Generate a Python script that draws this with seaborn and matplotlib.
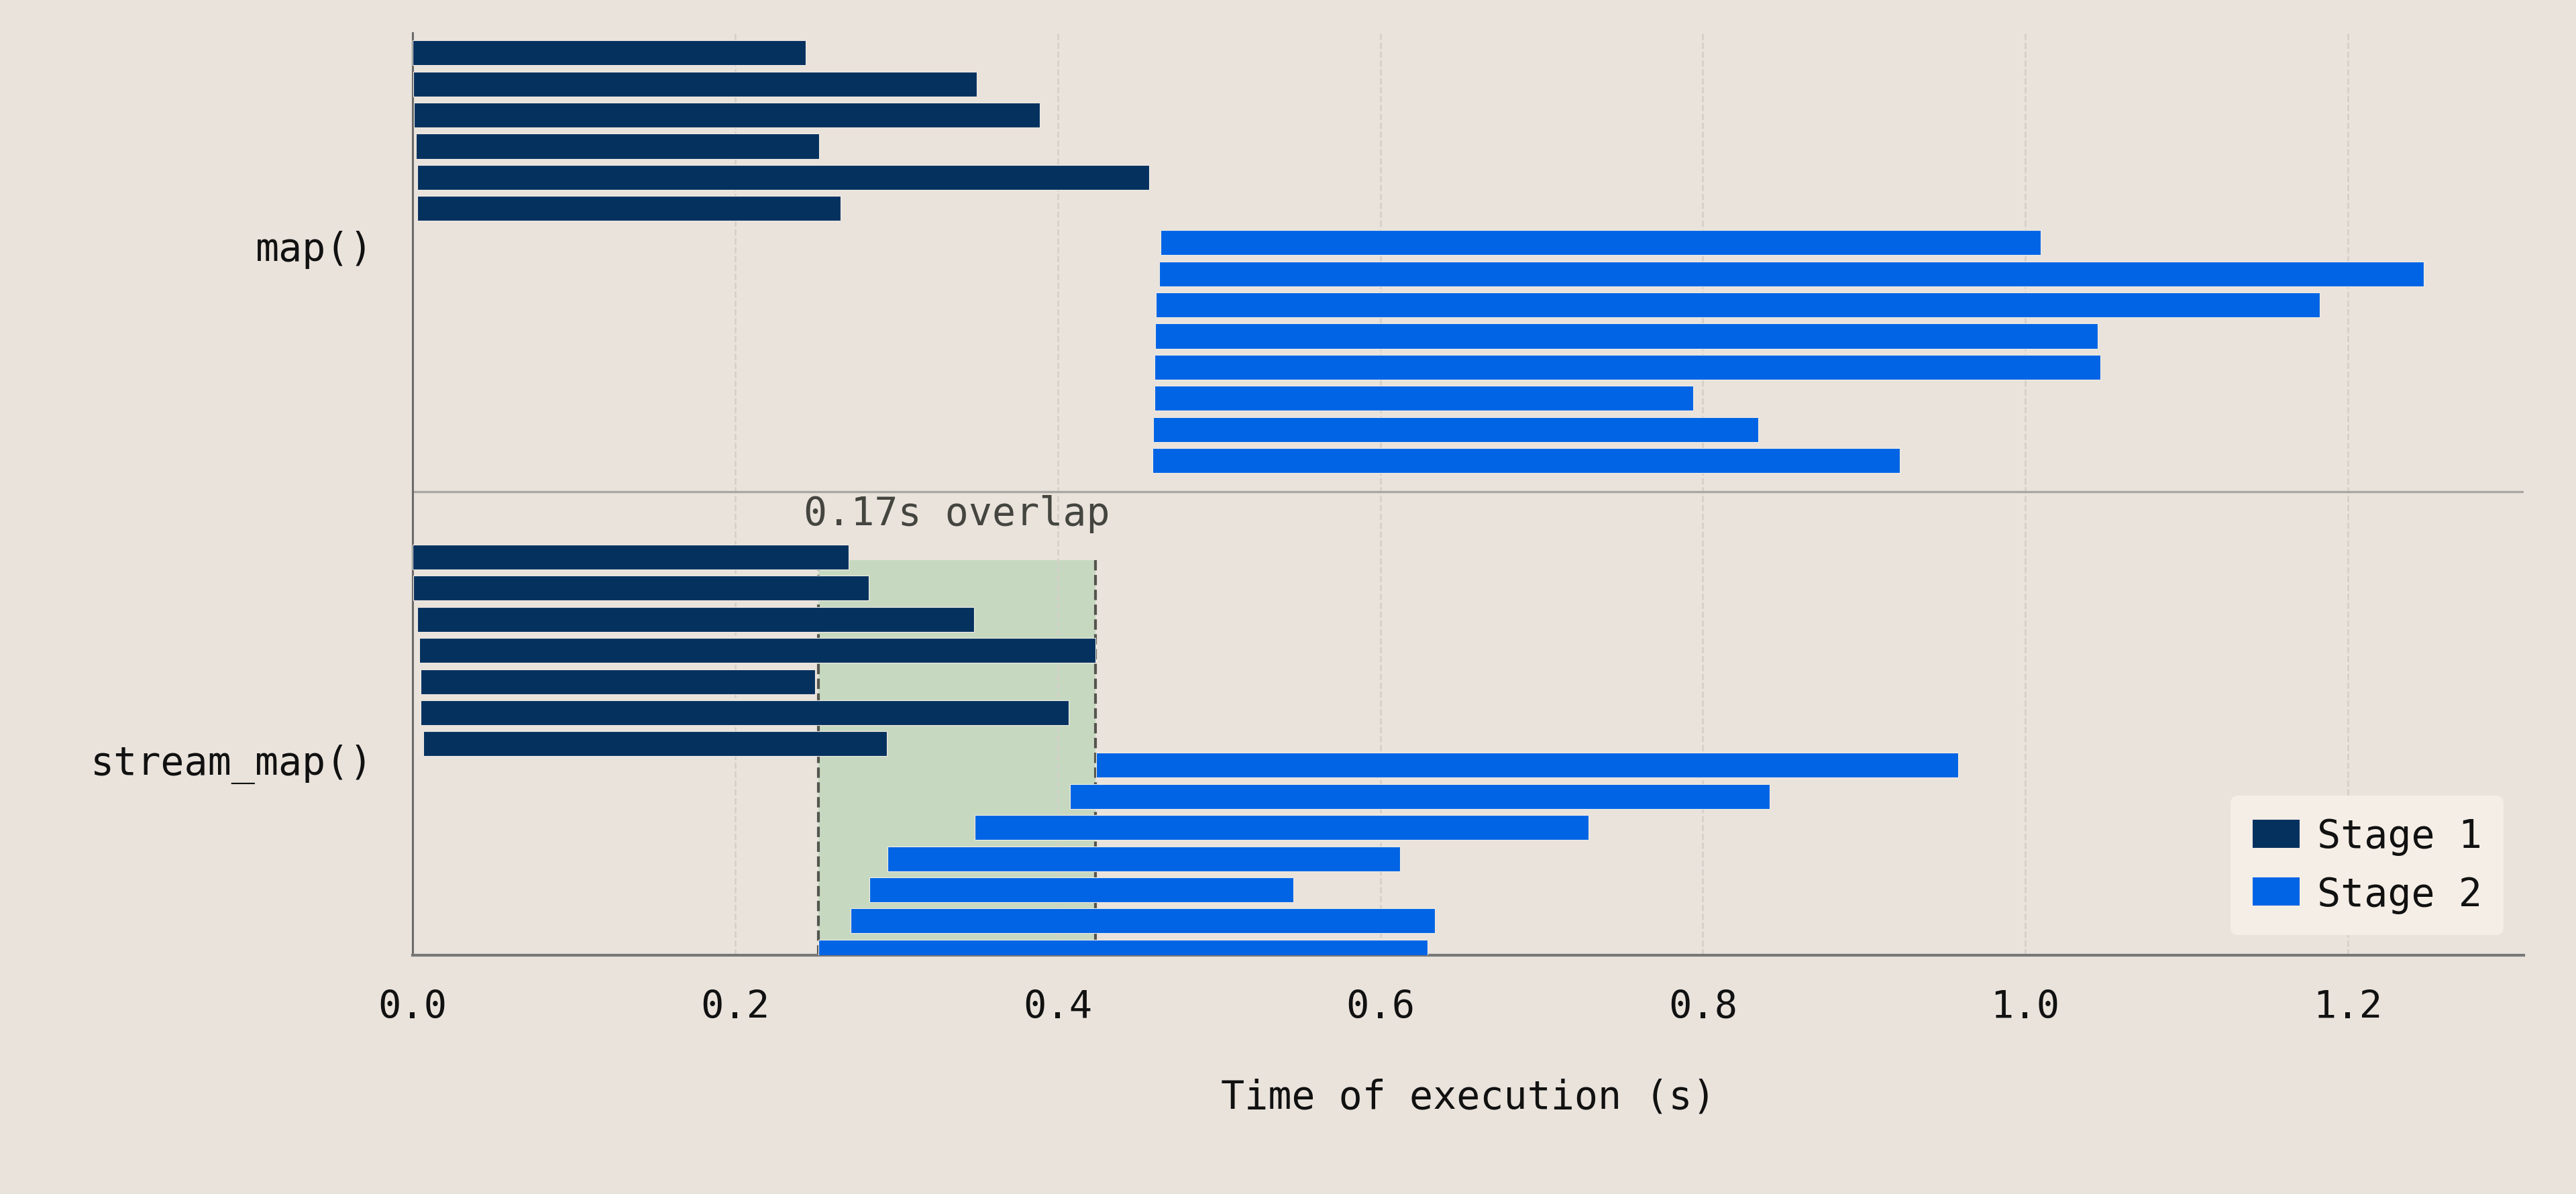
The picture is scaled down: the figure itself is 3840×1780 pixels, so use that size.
import matplotlib
matplotlib.use("Agg")
import matplotlib.pyplot as plt
from matplotlib.patches import Patch
import numpy as np
import pandas as pd
import seaborn as sns

# 两种方法、两个阶段的任务起止时间（秒）
methods = ["map()", "stream_map()"]
stages = ["Stage 1", "Stage 2"]

map_stage1_start = [0.000, 0.0004, 0.0007, 0.002, 0.003, 0.003]
map_stage1_end = [0.2437, 0.3497, 0.3889, 0.2521, 0.4566, 0.2652]
map_stage2_start = [0.4638, 0.4627, 0.4609, 0.4603, 0.4598, 0.4598, 0.4592, 0.4586]
map_stage2_end = [1.0095, 1.2468, 1.1824, 1.0448, 1.0465, 0.7939, 0.8344, 0.9220]

stream_stage1_start = [0.000, 0.0004, 0.003, 0.0042, 0.0049, 0.0049, 0.0064]
stream_stage1_end = [0.2705, 0.2826, 0.3481, 0.4235, 0.2495, 0.4067, 0.2941]
stream_stage2_start = [0.4236, 0.4076, 0.3484, 0.2946, 0.2832, 0.2714, 0.2514]
stream_stage2_end = [0.9584, 0.8415, 0.7291, 0.6123, 0.5462, 0.6340, 0.6294]

x_ticks = [0.0, 0.2, 0.4, 0.6, 0.8, 1.0, 1.2]

# 布局参数
BG = "#e9e3dc"
PALETTE = {"Stage 1": "#05315f", "Stage 2": "#0064e4"}
FONT = ["DejaVu Sans Mono", "DejaVu Sans"]
FS = 21
lane_first = {
    ("map()", "Stage 1"): 0.64,
    ("map()", "Stage 2"): 6.74,
    ("stream_map()", "Stage 1"): 16.84,
    ("stream_map()", "Stage 2"): 23.53,
}
label_lane = {"map()": 6.81, "stream_map()": 23.33}
separator_lane = 14.74
shade_top = 16.93
y_bottom = 29.63


def build_tasks():
    series = [
        ("map()", "Stage 1", map_stage1_start, map_stage1_end),
        ("map()", "Stage 2", map_stage2_start, map_stage2_end),
        ("stream_map()", "Stage 1", stream_stage1_start, stream_stage1_end),
        ("stream_map()", "Stage 2", stream_stage2_start, stream_stage2_end),
    ]
    rows = []
    for method, stage, starts, ends in series:
        for i, (s, e) in enumerate(zip(starts, ends)):
            rows.append({"method": method, "stage": stage, "start": s, "end": e,
                         "lane": lane_first[(method, stage)] + i})
    df = pd.DataFrame(rows)
    df["duration"] = df["end"] - df["start"]
    return df


tasks = build_tasks()

sns.set_theme(style="white", rc={
    "figure.facecolor": BG,
    "axes.facecolor": BG,
    "savefig.facecolor": BG,
})
plt.rcParams["font.family"] = FONT

fig = plt.figure(figsize=(19.2, 8.905), dpi=200)
ax = fig.add_axes([0.1602, 0.1999, 0.9797 - 0.1602, 0.9719 - 0.1999])

ax.barh(tasks["lane"], tasks["duration"], left=tasks["start"], height=0.8,
        color=tasks["stage"].map(PALETTE), edgecolor="#f1ece6", linewidth=0.4, zorder=3)

# stream_map() 中两阶段重叠区域
stream = tasks[tasks["method"] == "stream_map()"]
ov_left = stream.loc[stream["stage"] == "Stage 2", "start"].min()
ov_right = stream.loc[stream["stage"] == "Stage 1", "end"].max()
ax.fill_betweenx([shade_top, y_bottom], ov_left, ov_right, color="#c6d9c0", zorder=0.3, lw=0)
ax.vlines([ov_left, ov_right], shade_top, y_bottom, colors="#55554f",
          linestyles="--", linewidth=1.5, zorder=2)
ax.text((ov_left + ov_right) / 2, 15.45, f"{ov_right - ov_left:.2f}s overlap",
        ha="center", va="center", fontsize=FS, color="#45453f", family=FONT)

ax.axhline(separator_lane, color="#aaa7a2", linewidth=1.2, zorder=2)

ax.set_xlim(0, 1.309)
ax.set_ylim(y_bottom, 0)
ax.set_xticks(x_ticks)
ax.set_xticklabels([f"{t:.1f}" for t in x_ticks], fontsize=FS - 0.5, color="#111111")
ax.set_yticks([label_lane[m] for m in methods])
ax.set_yticklabels(methods, fontsize=FS, color="#111111")
ax.tick_params(axis="x", length=7.5, width=1.2, color="#111111", pad=10.5)
ax.tick_params(axis="y", length=0, pad=21)

ax.set_axisbelow(True)
ax.grid(axis="x", linestyle="--", linewidth=0.9, color="#d4cfc8")
ax.grid(axis="y", visible=False)

sns.despine(ax=ax, top=True, right=True)
ax.spines["left"].set_color("#6b6b6b")
ax.spines["left"].set_linewidth(1.1)
ax.spines["bottom"].set_color("#777777")
ax.spines["bottom"].set_linewidth(1.5)

ax.set_xlabel("Time of execution (s)", fontsize=FS, color="#111111", labelpad=28)

handles = [Patch(facecolor=PALETTE[s], edgecolor="none", label=s) for s in stages]
leg = ax.legend(handles=handles, loc="lower right", fontsize=FS, frameon=True,
                facecolor="#f4eee6", edgecolor="none", framealpha=1, fancybox=True,
                borderaxespad=0.52, borderpad=0.55, handlelength=1.2, handleheight=0.72,
                handletextpad=0.45, labelspacing=0.5)
for t in leg.get_texts():
    t.set_color("#111111")

fig.savefig("out.png", dpi=200, facecolor=BG)
plt.close(fig)
